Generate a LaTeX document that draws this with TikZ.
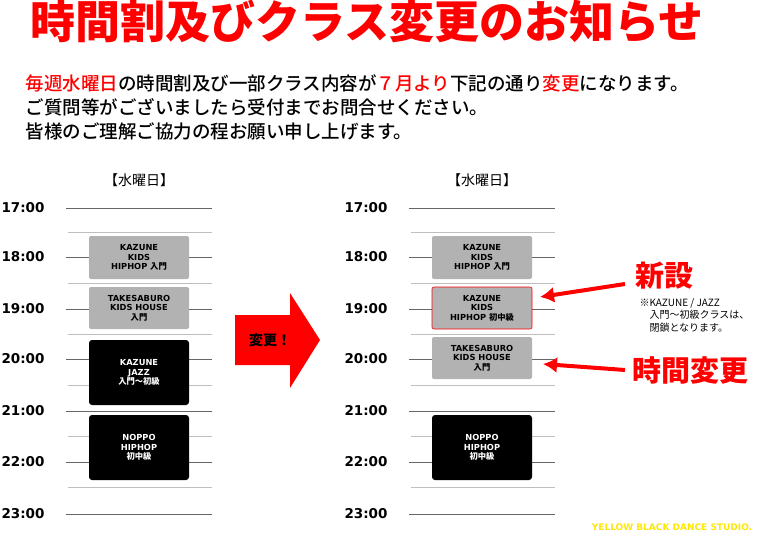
\documentclass[tikz,border=0pt]{standalone}
\usepackage{fontspec}
\usetikzlibrary{arrows.meta}
\setmainfont{DejaVu Sans}
\newfontfamily\jp{Noto Sans CJK JP}
\newfontfamily\jpm{Noto Sans CJK JP Medium}
\newfontfamily\jpb{Noto Sans CJK JP Black}
\begin{document}
\begin{tikzpicture}[x=1pt,y=-1pt,
 hr/.style={font=\bfseries\fontsize{13.5}{14}\selectfont},
 gbox/.style={fill=black!30,rounded corners=2pt,minimum width=100pt,align=center,inner sep=1pt,font=\bfseries\fontsize{8.3}{9.6}\selectfont},
 bbox/.style={fill=black,text=white,rounded corners=3pt,minimum width=100pt,align=center,inner sep=1pt,font=\bfseries\fontsize{8.3}{9.6}\selectfont},
 ln/.style={draw=black!60,line width=0.6pt},
 sep/.style={draw=black!25,line width=1pt},
 rarrow/.style={draw=red,line width=4pt,-{Latex[length=14pt,width=16pt]}}]
\useasboundingbox (0,0) rectangle (767,537);
\node[text=red,font=\jpb\fontsize{45}{48}\selectfont] (title) at (367,21) {時間割及びクラス変更のお知らせ};
\node[anchor=west,font=\jpm\fontsize{18.5}{24}\selectfont,align=left] (intro) at (22,107) {{\color{red}毎週水曜日}の時間割及び一部クラス内容が{\color{red}７月より}下記の通り{\color{red}変更}になります。\\ご質問等がございましたら受付までお問合せください。\\皆様のご理解ご協力の程お願い申し上げます。};
\foreach \o/\n in {0/L,343/R}{
 \node[font=\jp\fontsize{14}{16}\selectfont] (day\n) at (\o+139,180) {【水曜日】};
 \foreach \y/\t [count=\i] in {208/17:00,257/18:00,309/19:00,359/20:00,411/21:00,462/22:00,514/23:00}{
  \node[hr] (h\n\i) at (\o+23,\y) {\t};
  \coordinate (a\n\i) at (\o+66,\y); \coordinate (b\n\i) at (\o+212,\y);
  \draw[ln] (a\n\i) -- (b\n\i);
 }
 \foreach \y [count=\i] in {232,283,334,385,436,487}{
  \coordinate (s\n\i) at (\o+68,\y); \coordinate (t\n\i) at (\o+212,\y);
  \draw[sep] (s\n\i) -- (t\n\i);
 }
 \node[gbox,minimum height=43pt] (k\n) at (\o+139,257.5) {KAZUNE\\KIDS\\HIPHOP {\jpm 入門}};
 \node[bbox,minimum height=65pt] (n\n) at (\o+139,447.5) {NOPPO\\HIPHOP\\{\jpm 初中級}};
}
\node[gbox,minimum height=42pt] (tL) at (139,308) {TAKESABURO\\KIDS HOUSE\\{\jpm 入門}};
\node[bbox,minimum height=65pt] (jL) at (139,372.5) {KAZUNE\\JAZZ\\{\jpm 入門～初級}};
\node[gbox,draw=red,line width=0.6pt,minimum height=42pt] (kR2) at (482,308) {KAZUNE\\KIDS\\HIPHOP {\jpm 初中級}};
\node[gbox,minimum height=42pt] (tR) at (482,358) {TAKESABURO\\KIDS HOUSE\\{\jpm 入門}};
\fill[red] (235,315) -- (290,315) -- (290,293) -- (320,340) -- (290,388) -- (290,365) -- (235,365) -- cycle;
\node[font=\jpb\fontsize{14}{16}\selectfont] (chg) at (270,340) {変更！};
\node[text=red,font=\jpb\fontsize{29}{30}\selectfont] (new) at (664,276) {新設};
\node[text=red,font=\jpb\fontsize{29}{30}\selectfont] (tc) at (690,370) {時間変更};
\node[anchor=north west,align=left,font=\jp\fontsize{10}{12.5}\selectfont] (note) at (636,295) {※KAZUNE / JAZZ\\\hspace*{10pt}入門～初級クラスは、\\\hspace*{10pt}閉鎖となります。};
\coordinate (e1) at (625,284); \coordinate (f1) at (540,297);
\coordinate (e2) at (625,370); \coordinate (f2) at (543,364);
\draw[rarrow] (e1) -- (f1);
\draw[rarrow] (e2) -- (f2);
\node[text=yellow!90!orange,font=\bfseries\fontsize{9}{10}\selectfont] (ft) at (672,527) {YELLOW BLACK DANCE STUDIO.};
\end{tikzpicture}
\end{document}
